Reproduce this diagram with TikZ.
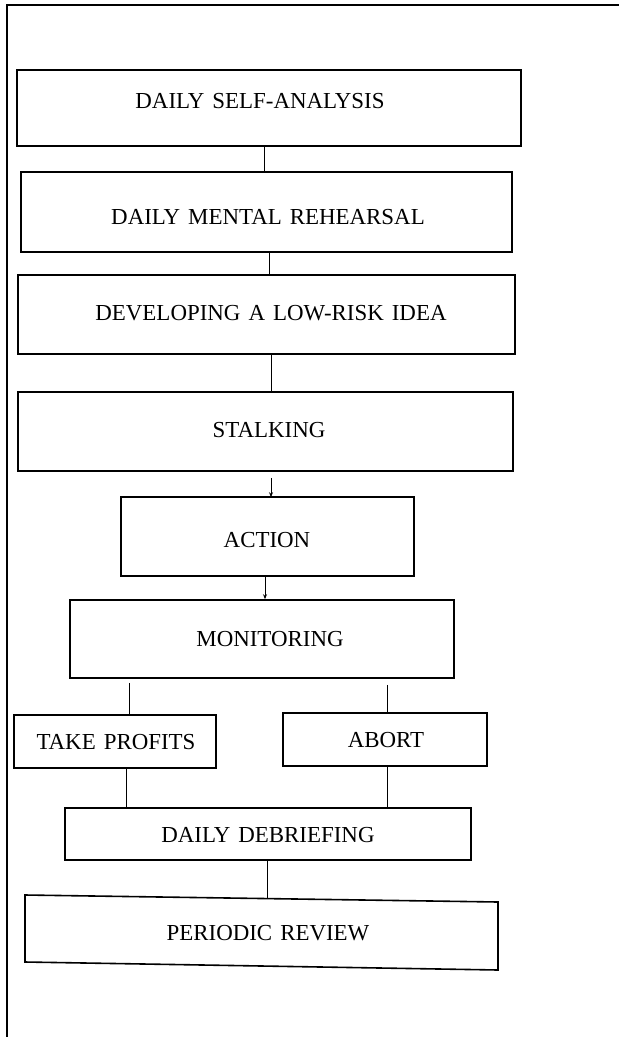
\documentclass[tikz,border=0pt]{standalone}
\usepackage{fontspec}
\setmainfont{Liberation Serif}[WordSpace={1.4,1,1}]
\usetikzlibrary{arrows.meta}
\begin{document}
\begin{tikzpicture}[x=1bp,y=-1bp,
  box/.style={draw, line width=1.6bp, inner sep=0pt},
  lbl/.style={inner sep=0pt, font=\fontsize{23}{26}\selectfont},
  conn/.style={line width=1bp},
  aconn/.style={line width=1bp, -{Stealth[length=5bp,width=4bp]}}]
\useasboundingbox (0,0) rectangle (619,1037);
% frame
\coordinate (fa) at (7,1037);
\coordinate (fb) at (7,5);
\coordinate (fc) at (619,5);
\draw[line width=1.5bp] (fa) -- (fb) -- (fc);
% boxes
\node[box, minimum width=504bp, minimum height=76bp] (b1) at (269,108) {};
\node[box, minimum width=491bp, minimum height=80bp] (b2) at (266.5,212) {};
\node[box, minimum width=497bp, minimum height=79bp] (b3) at (266.5,314.5) {};
\node[box, minimum width=495bp, minimum height=79bp] (b4) at (265.5,431.5) {};
\node[box, minimum width=293bp, minimum height=79bp] (b5) at (267.5,536.5) {};
\node[box, minimum width=384bp, minimum height=78bp] (b6) at (262,639) {};
\node[box, minimum width=202bp, minimum height=53bp] (b7) at (115,741.5) {};
\node[box, minimum width=204bp, minimum height=53bp] (b8) at (385,739.5) {};
\node[box, minimum width=406bp, minimum height=52bp] (b9) at (268,834) {};
\coordinate (p1) at (25,895);
\coordinate (p2) at (498,902);
\coordinate (p3) at (498,970);
\coordinate (p4) at (25,962);
\draw[line width=1.6bp] (p1) -- (p2) -- (p3) -- (p4) -- cycle;
\coordinate (b10n) at (267,898.5);
% labels
\node[lbl] (t1) at (260,101) {DAILY SELF-ANALYSIS};
\node[lbl] (t2) at (268,217) {DAILY MENTAL REHEARSAL};
\node[lbl] (t3) at (271,313) {DEVELOPING A LOW-RISK IDEA};
\node[lbl] (t4) at (269,430) {STALKING};
\node[lbl] (t5) at (267,540) {ACTION};
\node[lbl] (t6) at (270,639) {MONITORING};
\node[lbl] (t7) at (116,742) {TAKE PROFITS};
\node[lbl] (t8) at (386,740) {ABORT};
\node[lbl] (t9) at (268,835) {DAILY DEBRIEFING};
\node[lbl] (t10) at (268,933) {PERIODIC REVIEW};
% connectors
\draw[conn] ([xshift=-5bp]b1.south) -- ([xshift=-5bp]b1.south |- b2.north);
\draw[conn] ([xshift=2.5bp]b2.south) -- ([xshift=2.5bp]b2.south |- b3.north);
\draw[conn] ([xshift=4.5bp]b3.south) -- ([xshift=4.5bp]b3.south |- b4.north);
\draw[aconn] ([xshift=5.5bp,yshift=-6bp]b4.south) -- ([xshift=5.5bp,yshift=-1bp]b4.south |- b5.north);
\draw[aconn] ([xshift=-2.5bp]b5.south) -- ([xshift=-2.5bp]b5.south |- b6.north);
\draw[conn] ([xshift=14bp,yshift=-4bp]b6.south -| b7.north) -- ([xshift=14bp]b7.north);
\draw[conn] ([xshift=2bp,yshift=-6bp]b6.south -| b8.north) -- ([xshift=2bp]b8.north);
\draw[conn] ([xshift=11bp]b7.south) -- ([xshift=11bp]b7.south |- b9.north);
\draw[conn] ([xshift=2bp]b8.south) -- ([xshift=2bp]b8.south |- b9.north);
\draw[conn] ([xshift=-1bp]b9.south) -- (b10n);
\end{tikzpicture}
\end{document}
